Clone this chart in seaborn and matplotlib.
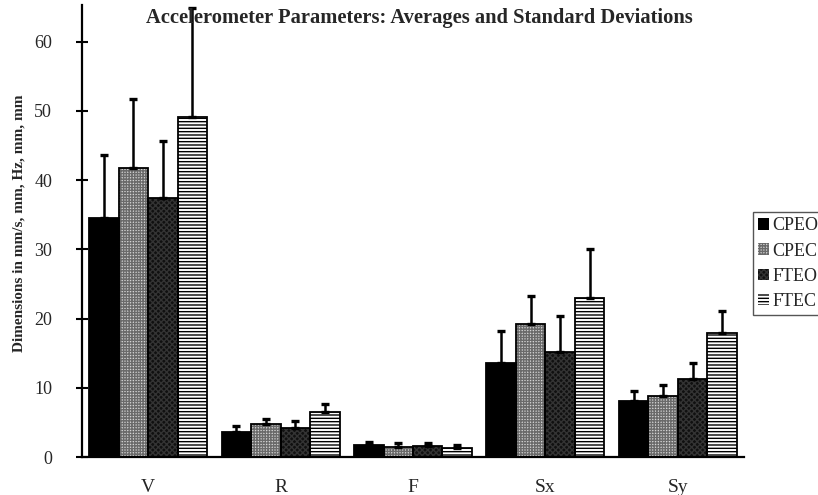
import numpy as np
import pandas as pd
import matplotlib
matplotlib.use("Agg")
import matplotlib.pyplot as plt
from matplotlib.patches import Patch
import seaborn as sns

# Parameters and groups
params = ["V", "R", "F", "Sx", "Sy"]
groups = ["CPEO", "CPEC", "FTEO", "FTEC"]

# Averages per group (one value per parameter)
mean_cpeo = [34.6, 3.6, 1.7, 13.6, 8.1]
mean_cpec = [41.7, 4.7, 1.5, 19.2, 8.8]
mean_fteo = [37.4, 4.2, 1.6, 15.2, 11.3]
mean_ftec = [49.1, 6.5, 1.3, 22.9, 17.9]

# Standard deviations per group
sd_cpeo = [9.0, 0.9, 0.5, 4.6, 1.4]
sd_cpec = [10.0, 0.8, 0.5, 4.0, 1.6]
sd_fteo = [8.2, 1.0, 0.4, 5.1, 2.3]
sd_ftec = [15.8, 1.1, 0.4, 7.1, 3.2]

yticks = [0, 10, 20, 30, 40, 50, 60]

means = [mean_cpeo, mean_cpec, mean_fteo, mean_ftec]
sds = [sd_cpeo, sd_cpec, sd_fteo, sd_ftec]
df = pd.DataFrame({
    "param": np.tile(params, len(groups)),
    "group": np.repeat(groups, len(params)),
    "mean": np.concatenate(means),
    "sd": np.concatenate(sds),
})

sns.set_theme(style="white")
plt.rcParams["font.family"] = ["Liberation Serif", "DejaVu Serif"]
plt.rcParams["hatch.linewidth"] = 1.0

# Fill styles: (face, hatch, hatch colour)
styles = {
    "CPEO": ("black", None, "black"),
    "CPEC": ("#d4d4d4", "++++++", "#6a6a6a"),
    "FTEO": ("#101010", "xxxxxx", "#333333"),
    "FTEC": ("white", "-----", "black"),
}

fig = plt.figure(figsize=(8.18, 4.95), dpi=100)
ax = fig.add_axes([82 / 818, 1 - 457 / 495, (744 - 82) / 818, (457 - 5) / 495])

sns.barplot(data=df, x="param", y="mean", hue="group", order=params,
            hue_order=groups, width=0.89, errorbar=None, ax=ax,
            legend=False, linewidth=0)

def style_patch(p, face, hatch, hcolor):
    p.set_facecolor(face)
    p.set_edgecolor(hcolor)
    p.set_linewidth(0)
    if hatch:
        p.set_hatch(hatch)
    if hasattr(p, "set_hatchcolor"):
        p.set_hatchcolor(hcolor)
    else:
        p._hatch_color = matplotlib.colors.to_rgba(hcolor)

# Style bars, outline them and add upward SD whiskers
for gi, g in enumerate(groups):
    face, hatch, hcolor = styles[g]
    cont = ax.containers[gi]
    xs = []
    for p in cont.patches:
        style_patch(p, face, hatch, hcolor)
        ax.add_patch(plt.Rectangle((p.get_x(), p.get_y()), p.get_width(),
                                   p.get_height(), fill=False,
                                   edgecolor="black", linewidth=1.3, zorder=3))
        xs.append(p.get_x() + p.get_width() / 2)
    sub = df[df["group"] == g].set_index("param").loc[params]
    ax.errorbar(xs, sub["mean"].values, yerr=[np.zeros(len(params)), sub["sd"].values],
                fmt="none", ecolor="black", elinewidth=1.8, capsize=3.2,
                capthick=2.4, zorder=4)

ax.set_xlim(-0.5, len(params) - 0.5)
ax.set_ylim(0, 65.3)
ax.set_yticks(yticks)
ax.set_yticklabels([str(t) for t in yticks], fontsize=13)
ax.set_xticks(range(len(params)))
ax.set_xticklabels(params, fontsize=14)
ax.set_xticks(np.arange(-0.5, len(params)), minor=True)
ax.tick_params(axis="x", which="major", length=0, pad=16)
ax.tick_params(axis="x", which="minor", direction="inout", length=10, width=1.5, color="black")
ax.tick_params(axis="y", which="major", direction="inout", length=9, width=1.5,
               color="black", pad=17, left=True)
ax.set_xlabel("")
ax.set_ylabel("Dimensions in mm/s, mm, Hz, mm, mm", fontsize=11,
              fontweight="bold")
ax.yaxis.set_label_coords(-0.085, 0.518)
for s in ["top", "right"]:
    ax.spines[s].set_visible(False)
for s in ["left", "bottom"]:
    ax.spines[s].set_color("black")
    ax.spines[s].set_linewidth(1.6)

fig.text(419 / 818, 1 - 18 / 495, "Accelerometer Parameters: Averages and Standard Deviations",
         ha="center", va="center", fontsize=14.8, fontweight="bold", zorder=0)

handles = []
for g in groups:
    face, hatch, hcolor = styles[g]
    h = Patch(facecolor=face, edgecolor=hcolor, hatch=hatch, linewidth=0, label=g)
    handles.append(h)
leg = ax.legend(handles=handles, loc="upper left", bbox_to_anchor=(1.013, 0.542),
                frameon=True, fancybox=False, framealpha=1, edgecolor="#555555",
                fontsize=13, handlelength=0.6, handleheight=0.6, handletextpad=0.2,
                labelspacing=0.45, borderpad=0.3, borderaxespad=0)
leg.get_frame().set_linewidth(1.0)

fig.savefig("out.png", dpi=100)
